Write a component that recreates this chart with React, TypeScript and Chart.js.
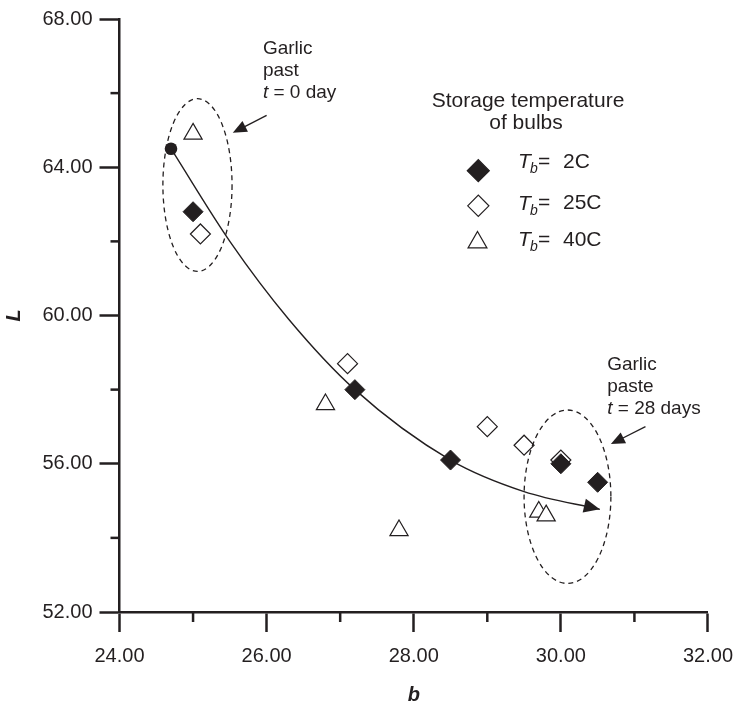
import React, { useEffect, useRef } from 'react';
import { Chart, registerables } from 'chart.js';

Chart.register(...registerables);

// ---- data ----
const tb2C_b = [25.0, 27.2, 28.5, 30.0, 30.5];
const tb2C_L = [62.8, 58.0, 56.1, 56.0, 55.5];
const tb25C_b = [25.1, 27.1, 29.0, 29.5, 30.0];
const tb25C_L = [62.2, 58.7, 57.0, 56.5, 56.1];
const tb40C_b = [25.0, 26.8, 27.8, 29.7, 29.8];
const tb40C_L = [64.9, 57.6, 54.2, 54.7, 54.6];
const start_b = [24.7];
const start_L = [64.5];
const trend_b = [24.7, 25.5, 26.3, 27.2, 28.5, 29.5, 30.53];
const trend_L = [64.5, 62.0, 59.9, 58.0, 56.1, 55.25, 54.77];

const xTickLabels = [24, 26, 28, 30, 32];
const yTickLabels = [52, 56, 60, 64, 68];
const xMinorTicks = [25, 27, 29, 31];
const yMinorTicks = [54, 58, 62, 66];

const legendTitle = ['Storage temperature', 'of bulbs'];
const legendValues = ['2C', '25C', '40C'];

const noteDay0 = ['Garlic', 'past', 't = 0 day'];
const noteDay28 = ['Garlic', 'paste', 't = 28 days'];
const noteAnchorB = [25.95, 30.63];
const noteAnchorL = [67.21, 58.68];
const pointerFromB = [26.0, 31.15];
const pointerFromL = [65.4, 57.0];
const pointerToB = [25.54, 30.68];
const pointerToL = [64.93, 56.53];

const ellipseB = [25.06, 30.09];
const ellipseL = [63.52, 55.11];
const ellipseRadB = [0.47, 0.59];
const ellipseRadL = [2.33, 2.34];

const toPts = (xs: number[], ys: number[]) => xs.map((v, i) => ({ x: v, y: ys[i] }));

const dark = '#231f20';
const family = "'Liberation Sans', Arial, Helvetica, sans-serif";

function arrowHead(ctx: CanvasRenderingContext2D, tx: number, ty: number, a: number, len: number, half: number) {
  const c = Math.cos(a);
  const s = Math.sin(a);
  ctx.beginPath();
  ctx.moveTo(tx, ty);
  ctx.lineTo(tx - len * c + half * s, ty - len * s - half * c);
  ctx.lineTo(tx - len * c - half * s, ty - len * s + half * c);
  ctx.closePath();
  ctx.fill();
}

function diamond(ctx: CanvasRenderingContext2D, x: number, y: number, r: number) {
  ctx.beginPath();
  ctx.moveTo(x - r, y);
  ctx.lineTo(x, y - r);
  ctx.lineTo(x + r, y);
  ctx.lineTo(x, y + r);
  ctx.closePath();
}

function triangle(ctx: CanvasRenderingContext2D, x: number, y: number, r: number) {
  ctx.beginPath();
  ctx.moveTo(x, y - r);
  ctx.lineTo(x + r * Math.sin((2 * Math.PI) / 3), y - r * Math.cos((2 * Math.PI) / 3));
  ctx.lineTo(x - r * Math.sin((2 * Math.PI) / 3), y - r * Math.cos((2 * Math.PI) / 3));
  ctx.closePath();
}

const overlay = {
  id: 'overlay',
  afterDatasetsDraw(chart: any) {
    const ctx: CanvasRenderingContext2D = chart.ctx;
    const meta = chart.getDatasetMeta(4);
    const pts = meta.data;
    if (!pts || pts.length < 2) return;
    const last = pts[pts.length - 1];
    let fx = last.cp1x;
    let fy = last.cp1y;
    if (fx === undefined || (Math.abs(fx - last.x) < 0.01 && Math.abs(fy - last.y) < 0.01)) {
      fx = pts[pts.length - 2].x;
      fy = pts[pts.length - 2].y;
    }
    const a = Math.atan2(last.y - fy, last.x - fx);
    ctx.save();
    ctx.fillStyle = dark;
    arrowHead(ctx, last.x, last.y, a, 16, 7);
    ctx.restore();
  },
  afterDraw(chart: any) {
    const ctx: CanvasRenderingContext2D = chart.ctx;
    const x = chart.scales.x;
    const y = chart.scales.y;
    const area = chart.chartArea;
    ctx.save();
    // minor ticks
    ctx.strokeStyle = dark;
    ctx.lineWidth = 2.5;
    xMinorTicks.forEach((v) => {
      const px = x.getPixelForValue(v);
      ctx.beginPath();
      ctx.moveTo(px, area.bottom);
      ctx.lineTo(px, area.bottom + 10);
      ctx.stroke();
    });
    yMinorTicks.forEach((v) => {
      const py = y.getPixelForValue(v);
      ctx.beginPath();
      ctx.moveTo(area.left, py);
      ctx.lineTo(area.left - 9, py);
      ctx.stroke();
    });

    // dashed ellipses
    ctx.lineWidth = 1.3;
    ctx.setLineDash([5, 4]);
    ellipseB.forEach((cb, i) => {
      const cx = x.getPixelForValue(cb);
      const cy = y.getPixelForValue(ellipseL[i]);
      const rx = Math.abs(x.getPixelForValue(cb + ellipseRadB[i]) - cx);
      const ry = Math.abs(y.getPixelForValue(ellipseL[i] + ellipseRadL[i]) - cy);
      ctx.beginPath();
      ctx.ellipse(cx, cy, rx, ry, 0, 0, Math.PI * 2);
      ctx.stroke();
    });
    ctx.setLineDash([]);

    // pointer arrows
    ctx.fillStyle = dark;
    pointerFromB.forEach((fb, i) => {
      const x1 = x.getPixelForValue(fb);
      const y1 = y.getPixelForValue(pointerFromL[i]);
      const x2 = x.getPixelForValue(pointerToB[i]);
      const y2 = y.getPixelForValue(pointerToL[i]);
      const a = Math.atan2(y2 - y1, x2 - x1);
      ctx.beginPath();
      ctx.moveTo(x1, y1);
      ctx.lineTo(x2 - 8 * Math.cos(a), y2 - 8 * Math.sin(a));
      ctx.stroke();
      arrowHead(ctx, x2, y2, a, 14, 6);
    });

    // notes
    ctx.textBaseline = 'middle';
    ctx.textAlign = 'left';
    const notes = [noteDay0, noteDay28];
    notes.forEach((lines, i) => {
      const x0 = x.getPixelForValue(noteAnchorB[i]);
      const y0 = y.getPixelForValue(noteAnchorL[i]);
      lines.forEach((line, j) => {
        const yy = y0 + j * 22;
        if (line.startsWith('t ')) {
          ctx.font = `italic 19px ${family}`;
          ctx.fillText('t', x0, yy);
          const w = ctx.measureText('t').width;
          ctx.font = `19px ${family}`;
          ctx.fillText(line.slice(1), x0 + w, yy);
        } else {
          ctx.font = `19px ${family}`;
          ctx.fillText(line, x0, yy);
        }
      });
    });

    // legend
    ctx.textAlign = 'center';
    ctx.font = `21px ${family}`;
    ctx.fillText(legendTitle[0], 528, 101);
    ctx.fillText(legendTitle[1], 526, 123);

    ctx.lineWidth = 1.2;
    diamond(ctx, 478.3, 170.7, 11);
    ctx.fillStyle = dark;
    ctx.fill();
    ctx.stroke();
    diamond(ctx, 478.3, 205.8, 10.6);
    ctx.fillStyle = '#fff';
    ctx.fill();
    ctx.stroke();
    triangle(ctx, 477.5, 242.4, 10.9);
    ctx.fill();
    ctx.stroke();

    ctx.fillStyle = dark;
    ctx.textAlign = 'left';
    const rowY = [162.5, 203.7, 240.3];
    legendValues.forEach((v, i) => {
      const yy = rowY[i];
      ctx.font = `italic 21px ${family}`;
      ctx.fillText('T', 518, yy);
      ctx.font = `italic 14px ${family}`;
      ctx.fillText('b', 530, yy + 7);
      ctx.font = `21px ${family}`;
      ctx.fillText('=', 538, yy);
      ctx.fillText(v, 563, yy);
    });
    ctx.restore();
  },
};

export default function App() {
  const ref = useRef<HTMLCanvasElement>(null);
  useEffect(() => {
    const canvas = ref.current;
    if (!canvas) return;
    const chart = new Chart(canvas, {
      type: 'scatter',
      data: {
        datasets: [
          {
            label: 'Tb = 2C',
            data: toPts(tb2C_b, tb2C_L),
            pointStyle: 'rectRot',
            pointRadius: 10,
            backgroundColor: dark,
            borderColor: dark,
            borderWidth: 1,
            order: 0,
          },
          {
            label: 'Tb = 25C',
            data: toPts(tb25C_b, tb25C_L),
            pointStyle: 'rectRot',
            pointRadius: 10,
            backgroundColor: '#ffffff',
            borderColor: dark,
            borderWidth: 1.2,
            order: 1,
          },
          {
            label: 'Tb = 40C',
            data: toPts(tb40C_b, tb40C_L),
            pointStyle: 'triangle',
            pointRadius: 10.5,
            backgroundColor: '#ffffff',
            borderColor: dark,
            borderWidth: 1.2,
            order: 2,
          },
          {
            label: 'start',
            data: toPts(start_b, start_L),
            pointStyle: 'circle',
            pointRadius: 6.3,
            backgroundColor: dark,
            borderColor: dark,
            borderWidth: 0,
            order: 0,
          },
          {
            label: 'trend',
            data: toPts(trend_b, trend_L),
            showLine: true,
            pointRadius: 0,
            borderColor: dark,
            borderWidth: 1.4,
            cubicInterpolationMode: 'monotone',
            fill: false,
            order: 3,
          } as any,
        ],
      },
      options: {
        animation: false,
        responsive: false,
        events: [],
        layout: { padding: { left: 0, right: 28, top: 13.5, bottom: 0 } },
        plugins: { legend: { display: false }, tooltip: { enabled: false } },
        scales: {
          x: {
            type: 'linear',
            min: 24,
            max: 32,
            afterFit: (s: any) => {
              s.height = 94;
            },
            ticks: {
              stepSize: 1,
              autoSkip: false,
              maxRotation: 0,
              padding: 12,
              color: dark,
              font: { family, size: 20 },
              callback: (v: any) => (xTickLabels.includes(Number(v)) ? Number(v).toFixed(2) : ''),
            },
            grid: {
              display: true,
              drawOnChartArea: false,
              drawTicks: true,
              tickLength: 20,
              tickWidth: 2.5,
              tickColor: (c: any) => (c.tick && xTickLabels.includes(c.tick.value) ? dark : 'rgba(0,0,0,0)'),
            },
            border: { display: true, color: dark, width: 2.5 },
            title: {
              display: true,
              text: 'b',
              color: dark,
              font: { family, size: 20, weight: 'bold', style: 'italic', lineHeight: 1.1 },
              padding: { top: 0, bottom: 0 },
            },
          },
          y: {
            type: 'linear',
            min: 52,
            max: 68,
            afterFit: (s: any) => {
              s.width = 119.5;
            },
            ticks: {
              stepSize: 2,
              autoSkip: false,
              padding: 7,
              color: dark,
              font: { family, size: 20 },
              callback: (v: any) => (yTickLabels.includes(Number(v)) ? Number(v).toFixed(2) : ''),
            },
            grid: {
              display: true,
              drawOnChartArea: false,
              drawTicks: true,
              tickLength: 20,
              tickWidth: 2.5,
              tickColor: (c: any) => (c.tick && yTickLabels.includes(c.tick.value) ? dark : 'rgba(0,0,0,0)'),
            },
            border: { display: true, color: dark, width: 2.5 },
            title: {
              display: true,
              text: 'L',
              color: dark,
              font: { family, size: 20, weight: 'bold', style: 'italic', lineHeight: 1.2 },
              padding: { top: 2, bottom: 0 },
            },
          },
        },
      } as any,
      plugins: [overlay],
    });
    return () => chart.destroy();
  }, []);
  return (
    <div style={{ position: 'fixed', left: 0, top: 0, width: 745, height: 706, background: '#ffffff' }}>
      <canvas ref={ref} width={745} height={706} style={{ display: 'block', width: 745, height: 706 }} />
    </div>
  );
}
